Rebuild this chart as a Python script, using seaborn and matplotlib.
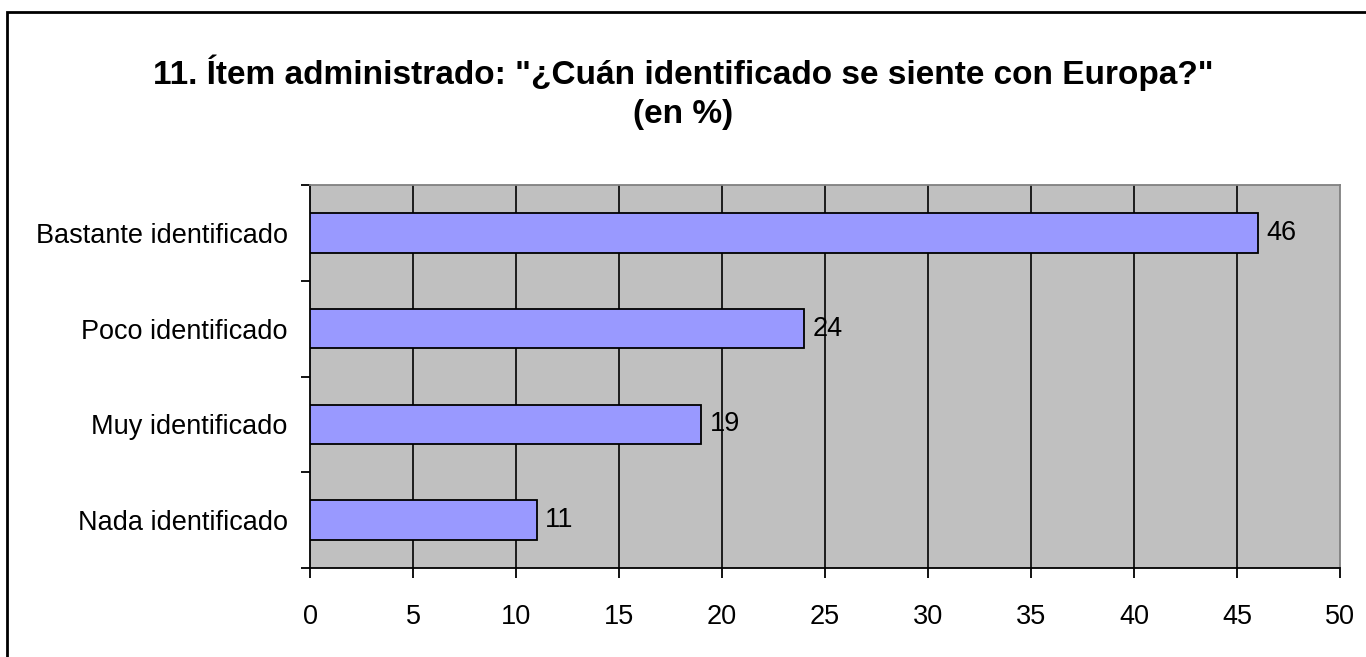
import matplotlib
matplotlib.use("Agg")
import matplotlib.pyplot as plt
import seaborn as sns
import pandas as pd
from matplotlib.patches import Rectangle

# Data
categories = ["Bastante identificado", "Poco identificado", "Muy identificado", "Nada identificado"]
values = [46, 24, 19, 11]
x_ticks = [0, 5, 10, 15, 20, 25, 30, 35, 40, 45, 50]

title_line1 = '11. Ítem administrado: "¿Cuán identificado se siente con Europa?"'
title_line2 = "(en %)"

df = pd.DataFrame({"categoria": categories, "porcentaje": values})

sns.set_style("white")
plt.rcParams["font.family"] = ["Liberation Sans", "DejaVu Sans"]
plt.rcParams["text.color"] = "black"
plt.rcParams["xtick.color"] = "black"
plt.rcParams["ytick.color"] = "black"

fig = plt.figure(figsize=(13.66, 6.57), dpi=100)
W, H = 1366, 657
ax = fig.add_axes([310 / W, 1 - 568 / H, (1340 - 310) / W, (568 - 185) / H])
ax.set_facecolor("#C0C0C0")

sns.barplot(data=df, x="porcentaje", y="categoria", orient="h", color="#9999FF",
            edgecolor="black", linewidth=1.3, width=0.41, saturation=1, ax=ax, zorder=3)

ax.set_xlim(0, 50)
ax.set_ylim(3.5, -0.5)
ax.set_xticks(x_ticks)
ax.set_xticklabels([str(t) for t in x_ticks])
ax.set_xlabel("")
ax.set_ylabel("")

# vertical gridlines
for t in x_ticks[1:-1]:
    ax.axvline(t, color="black", lw=1.2, zorder=1)

# spines: left/bottom black, top/right grey
for side in ["top", "right"]:
    ax.spines[side].set_color("#808080")
    ax.spines[side].set_linewidth(1.3)
for side in ["left", "bottom"]:
    ax.spines[side].set_color("black")
    ax.spines[side].set_linewidth(1.3)
    ax.spines[side].set_visible(True)

# category labels centered, ticks at boundaries
ax.set_yticks(range(len(categories)))
ax.set_yticklabels(categories)
ax.set_yticks([-0.5, 0.5, 1.5, 2.5, 3.5], minor=True)
ax.tick_params(axis="y", which="major", length=0, pad=16, labelsize=19.5, labelcolor="black")
ax.tick_params(axis="y", which="minor", length=6.5, width=1.3, color="black", left=True)
ax.tick_params(axis="x", which="major", length=7, width=1.3, color="black", bottom=True,
               direction="out", pad=19, labelsize=19.5, labelcolor="black")

# value labels
for i, v in enumerate(values):
    ax.annotate(str(v), xy=(v, i), xytext=(6, 0), textcoords="offset points",
                va="center", ha="left", fontsize=19.5, color="black", zorder=4)

fig.text(0.5, 1 - 73 / H, title_line1, ha="center", va="center", fontsize=24,
         fontweight="bold", color="black")
fig.text(0.5, 1 - 114 / H, title_line2, ha="center", va="center", fontsize=24,
         fontweight="bold", color="black")

# outer chart border
fig.patches.append(Rectangle((7 / W, -0.1), 1.2, 1 - 12 / H + 0.1, transform=fig.transFigure,
                             fill=False, edgecolor="black", lw=2, zorder=0))

fig.savefig("out.png", dpi=100, facecolor="white")
